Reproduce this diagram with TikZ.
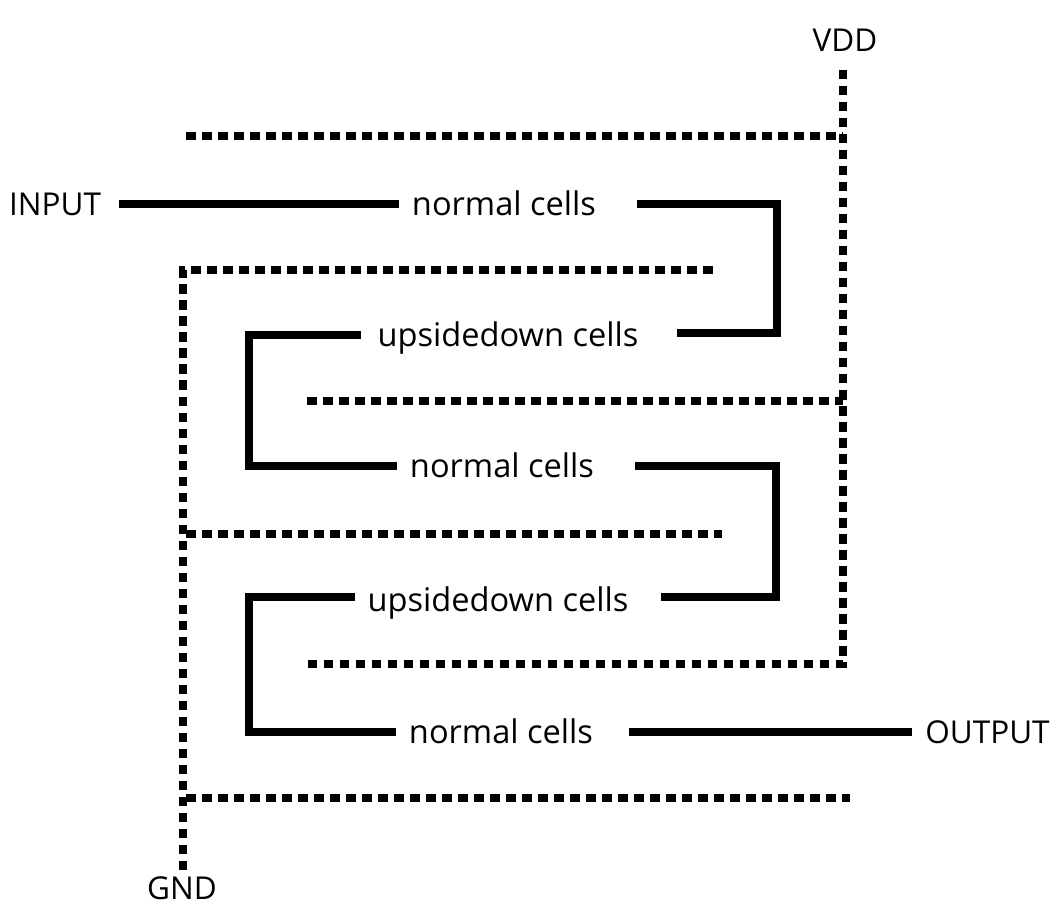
\documentclass[tikz,border=0pt]{standalone}
\usepackage{fontspec}
\setmainfont{Open Sans}
\tikzset{
  wire/.style={line width=7.5pt,line join=miter},
  rail/.style={line width=7.5pt,dash pattern=on 9.5pt off 6.5pt},
  lbl/.style={font=\fontsize{31.5}{34}\selectfont,inner sep=0pt,outer sep=0pt,text height=23pt,text depth=0pt,minimum height=1pt},
  cell/.style={lbl,font=\fontsize{32.6}{34}\selectfont},
}
\begin{document}
\begin{tikzpicture}[x=1pt,y=-1pt]
\useasboundingbox (0,0) rectangle (1058,909);
\node[lbl] (vdd) at (845,40) {VDD};
\node[lbl] (gnd) at (182,888) {GND};
\node[lbl] (input) at (55,204) {INPUT};
\node[lbl] (output) at (987.5,732) {OUTPUT};
\node[cell] (n1) at (504,204) {normal cells};
\node[cell] (u1) at (508,335) {upsidedown cells};
\node[cell] (n2) at (502,466) {normal cells};
\node[cell] (u2) at (498,597) {\raisebox{-3pt}{upsidedown cells}};
\node[cell] (n3) at (501,732) {normal cells};
\coordinate (a1) at (777,204);
\coordinate (a2) at (777,333);
\coordinate (b1) at (249,335);
\coordinate (b2) at (249,466);
\coordinate (c1) at (776,466);
\coordinate (c2) at (776,597);
\coordinate (d1) at (249,597);
\coordinate (d2) at (249,732);
\draw[wire] ([xshift=18pt]input.east) -- ([xshift=-13pt]n1.west);
\draw[wire] ([xshift=41pt]n1.east) -- (a1) -- (a2) -- ([xshift=39pt]u1.east |- a2);
\draw[wire] ([xshift=-17pt]u1.west) -- (b1) -- (b2) -- ([xshift=-13pt]n2.west);
\draw[wire] ([xshift=41pt]n2.east) -- (c1) -- (c2) -- ([xshift=33pt]u2.east);
\draw[wire] ([xshift=-13pt]u2.west) -- (d1) -- (d2) -- ([xshift=-13pt]n3.west);
\draw[wire] ([xshift=36pt]n3.east) -- ([xshift=-13pt]output.west);
\coordinate (v0) at (843,70);
\coordinate (v1) at (843,664);
\coordinate (v2) at (307,664);
\coordinate (v3) at (186,136);
\coordinate (v4) at (843,136);
\coordinate (v5) at (307,401);
\coordinate (v6) at (843,401);
\coordinate (g0) at (183,870);
\coordinate (g1) at (183,270);
\coordinate (g2) at (713,270);
\coordinate (g3) at (186,534);
\coordinate (g4) at (722,534);
\coordinate (g5) at (186,798);
\coordinate (g6) at (850,798);
\draw[rail] (v0) -- (v1) -- (v2);
\draw[rail] (v3) -- (v4);
\draw[rail] (v5) -- (v6);
\draw[rail] (g0) -- (g1) -- (g2);
\draw[rail] (g3) -- (g4);
\draw[rail] (g5) -- (g6);
\end{tikzpicture}
\end{document}
